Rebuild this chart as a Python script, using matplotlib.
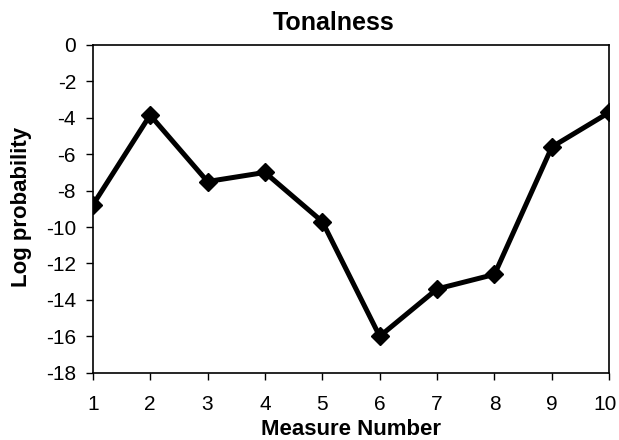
import matplotlib
matplotlib.use("Agg")
import matplotlib.pyplot as plt
import matplotlib.transforms as mtransforms

# data
measures = [1, 2, 3, 4, 5, 6, 7, 8, 9, 10]
log_prob = [-8.8, -3.85, -7.5, -7.0, -9.7, -16.0, -13.4, -12.6, -5.6, -3.7]
y_ticks = list(range(-18, 1, 2))

plt.rcParams["font.family"] = ["Liberation Sans", "DejaVu Sans"]
plt.rcParams["axes.unicode_minus"] = False

fig = plt.figure(figsize=(6.19, 4.40), dpi=100)
W, H = 619, 440
ax = fig.add_axes([92.7 / W, 1 - 372.7 / H, (609.3 - 92.7) / W, (372.7 - 45) / H])

ax.plot(measures, log_prob, color="black", linewidth=3.6,
        marker="D", markersize=9.5, markerfacecolor="black", markeredgecolor="black")

ax.set_xlim(1, 10)
ax.set_ylim(-18, 0)
ax.set_xticks(measures)
ax.set_yticks(y_ticks)
ax.tick_params(axis="both", direction="out", length=5, width=1, labelsize=15, colors="black")
ax.tick_params(axis="y", pad=7)
ax.tick_params(axis="x", pad=11)
for s in ax.spines.values():
    s.set_linewidth(1.2)
    s.set_color("black")

# nudge the "10" label left so it isn't clipped by the figure edge
last = ax.get_xticklabels()[-1]
last.set_transform(last.get_transform() + mtransforms.ScaledTranslation(-4 / 100, 0, fig.dpi_scale_trans))

ax.set_xlabel("Measure Number", fontsize=16, fontweight="bold", labelpad=4)
fig.text(22 / W, 1 - 207 / H, "Log probability", fontsize=16, fontweight="bold",
         rotation=90, ha="center", va="center")
fig.text(334 / W, 1 - 23 / H, "Tonalness", fontsize=18, fontweight="bold",
         ha="center", va="center")

fig.savefig("out.png", dpi=100)
